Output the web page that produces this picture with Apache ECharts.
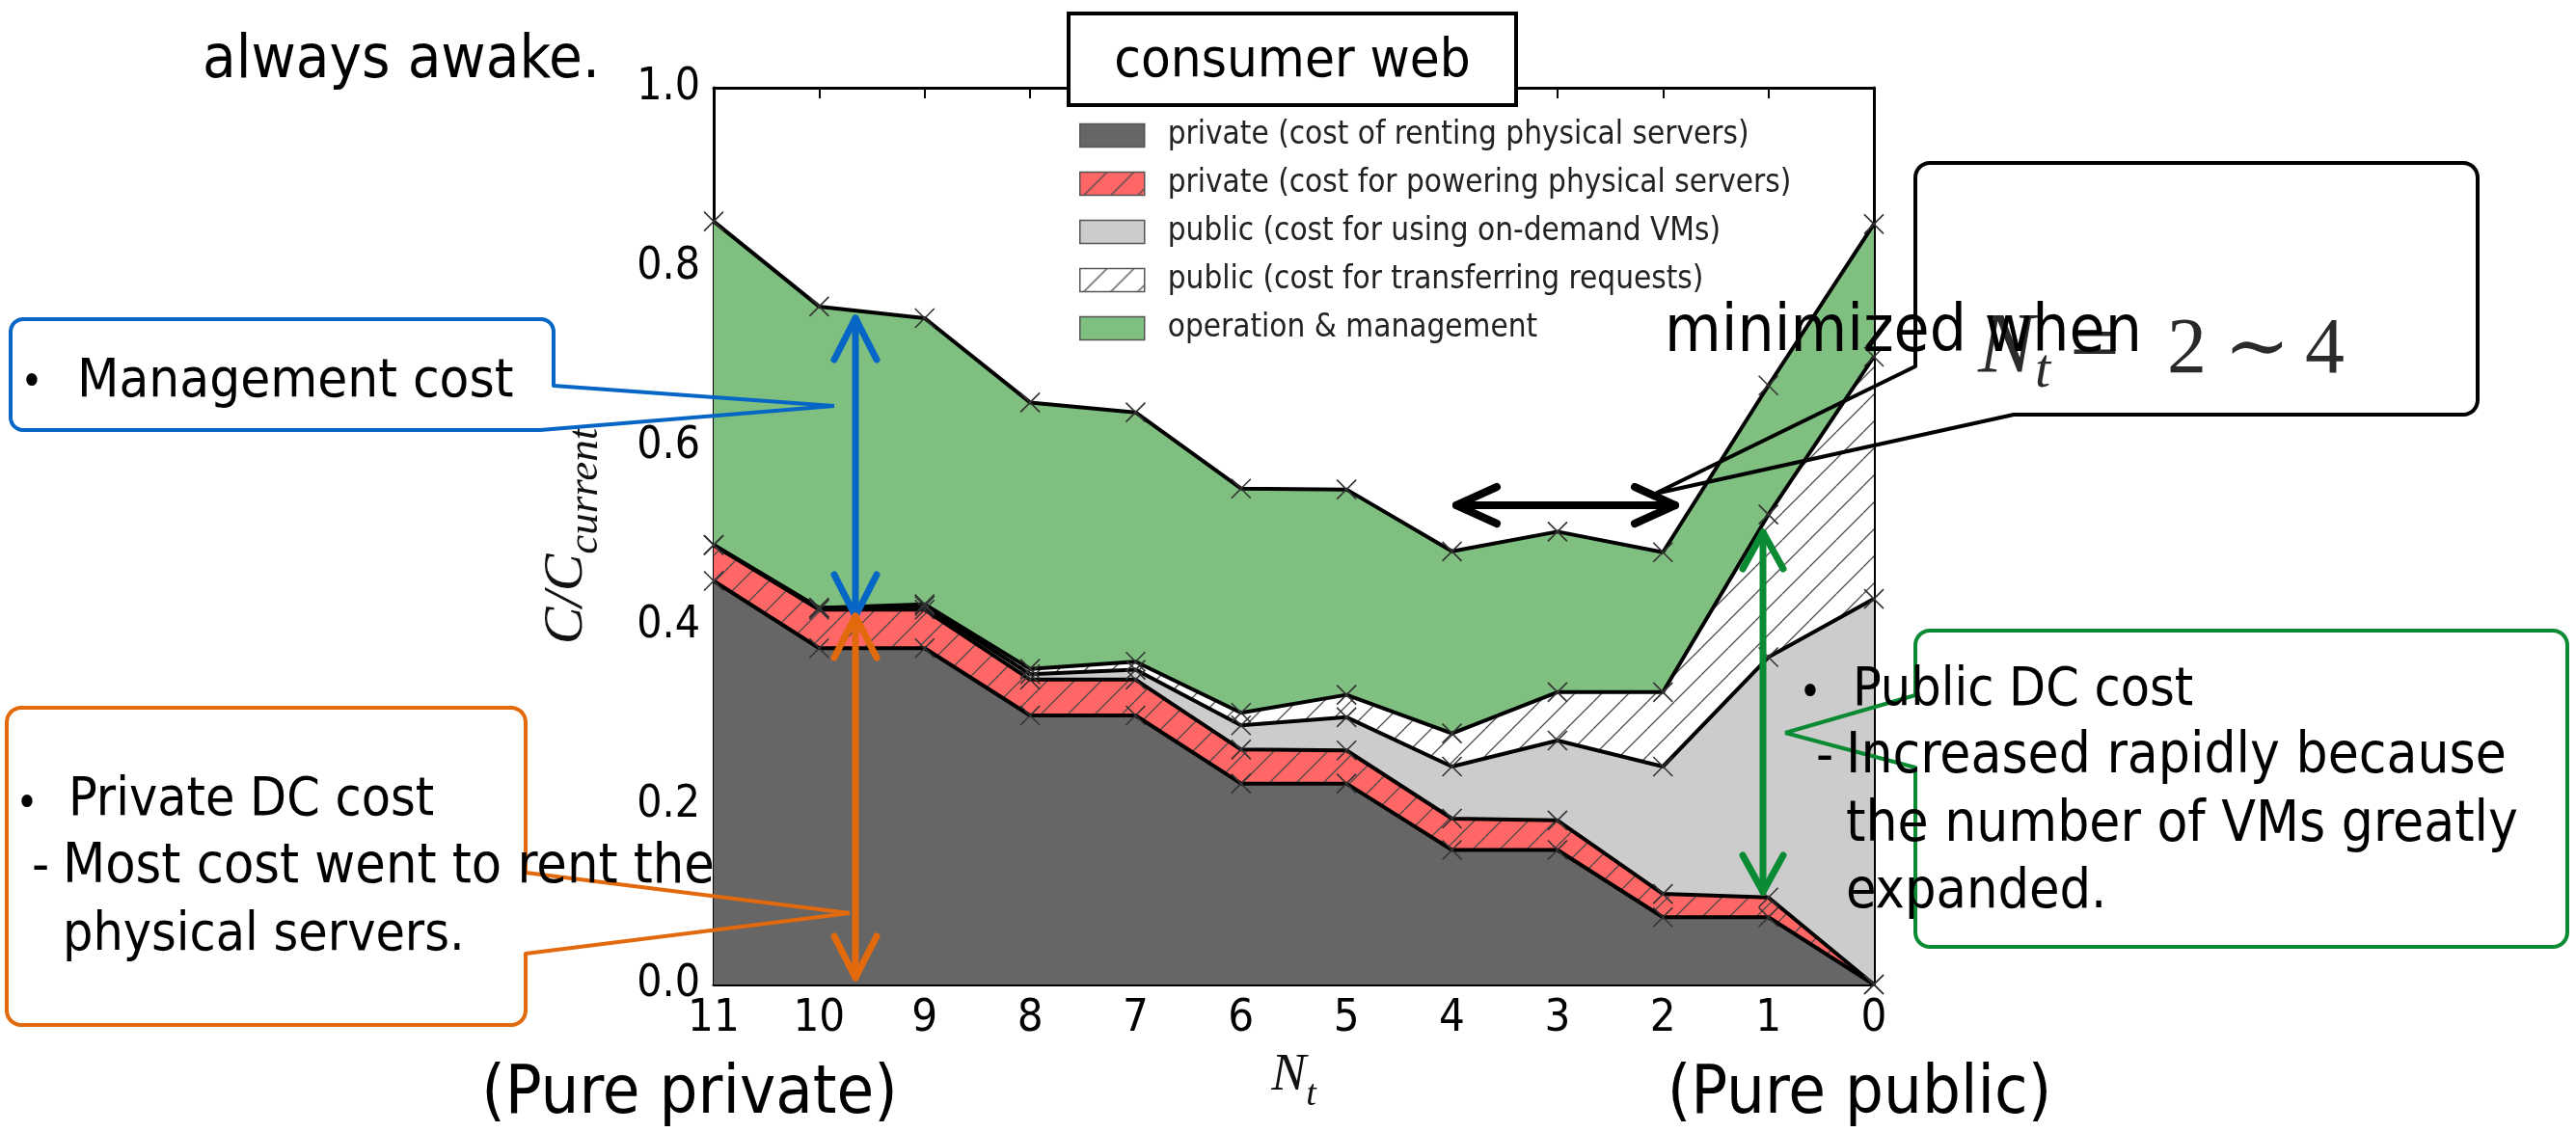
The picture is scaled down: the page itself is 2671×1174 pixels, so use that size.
<!DOCTYPE html>
<html>
<head>
<meta charset="utf-8">
<script src="https://cdn.jsdelivr.net/npm/echarts@6/dist/echarts.min.js"></script>
<style>
html, body { margin: 0; padding: 0; background: #ffffff; }
#chart { width: 2671px; height: 1174px; }
</style>
</head>
<body>
<div id="chart"></div>
<script>
// N_t: number of servers kept in the private data center (11 = pure private, 0 = pure public)
const nt = ['11', '10', '9', '8', '7', '6', '5', '4', '3', '2', '1', '0'];

// Cost components, normalised by the current cost (stacked bottom to top)
const renting    = [0.450, 0.375, 0.375, 0.300, 0.300, 0.224, 0.224, 0.150, 0.150, 0.075, 0.075, 0.000];
const powering   = [0.040, 0.043, 0.043, 0.040, 0.040, 0.038, 0.037, 0.035, 0.033, 0.026, 0.022, 0.000];
const vms        = [0.000, 0.002, 0.004, 0.006, 0.011, 0.027, 0.037, 0.058, 0.089, 0.142, 0.268, 0.430];
const transfer   = [0.000, 0.000, 0.002, 0.006, 0.009, 0.014, 0.025, 0.037, 0.054, 0.083, 0.159, 0.270];
const management = [0.361, 0.336, 0.319, 0.297, 0.278, 0.250, 0.229, 0.203, 0.179, 0.156, 0.144, 0.148];

const layerNames = [
  'private (cost of renting physical servers)',
  'private (cost for powering physical servers)',
  'public (cost for using on-demand VMs)',
  'public (cost for transferring requests)',
  'operation & management'
];
const layerValues = [renting, powering, vms, transfer, management];

const yRange = { min: 0, max: 1, step: 0.2 };

const PLOT_FONT = "'DejaVu Sans Condensed', 'DejaVu Sans', sans-serif";
const SERIF = "'Liberation Serif', 'DejaVu Serif', serif";
const SLIDE_FONT = "'DejaVu Sans Condensed', 'DejaVu Sans', sans-serif";

// diagonal "/" hatch drawn over a background colour, used as a repeating fill
function hatchFill(bg) {
  const s = 28;
  const c = document.createElement('canvas');
  c.width = s; c.height = s;
  const g = c.getContext('2d');
  g.fillStyle = bg;
  g.fillRect(0, 0, s, s);
  g.strokeStyle = '#4a4a4a';
  g.lineWidth = 1.3;
  g.beginPath();
  for (const k of [-s, 0, s]) { g.moveTo(k, s); g.lineTo(k + s, 0); }
  g.stroke();
  return { image: c, repeat: 'repeat' };
}

const layerFills = ['#666666', hatchFill('#ff6666'), '#cccccc', hatchFill('#ffffff'), '#7fbf7f'];

const crossMarker = 'path://M0,0L10,10M10,0L0,10';

// filled bands
const areaSeries = layerNames.map((name, i) => ({
  type: 'line',
  name: name,
  data: layerValues[i],
  stack: 'fill',
  showSymbol: false,
  symbol: 'none',
  itemStyle: { color: layerFills[i], borderColor: '#555', borderWidth: 1.5 },
  lineStyle: { width: 0, opacity: 0 },
  areaStyle: { color: layerFills[i], opacity: 1 },
  emphasis: { disabled: true },
  silent: true,
  z: 2
}));

// black outlines with cross markers on top of every band
const outlineSeries = layerNames.map((name, i) => ({
  type: 'line',
  name: 'edge ' + i,
  data: layerValues[i],
  stack: 'outline',
  symbol: crossMarker,
  symbolSize: 20,
  showSymbol: true,
  itemStyle: { color: 'rgba(0,0,0,0)', borderColor: '#333', borderWidth: 1.6 },
  lineStyle: { color: '#000', width: 4 },
  emphasis: { disabled: true },
  silent: true,
  z: 3
}));

// ---------- slide overlay helpers ----------
function txt(x, y, text, size, extra) {
  return {
    type: 'text', x: x, y: y, z: 120, silent: true,
    style: Object.assign({
      text: text, font: size + 'px ' + SLIDE_FONT, fill: '#000',
      textAlign: 'left', textVerticalAlign: 'middle'
    }, extra || {})
  };
}
function arc(cx, cy, r, a0, a1) {
  const pts = [];
  const n = 8;
  for (let k = 0; k <= n; k++) {
    const a = a0 + (a1 - a0) * k / n;
    pts.push([cx + r * Math.cos(a), cy + r * Math.sin(a)]);
  }
  return pts;
}
function outline(points, color) {
  return {
    type: 'polyline', z: 110, silent: true,
    shape: { points: points },
    style: { stroke: color, fill: 'none', lineWidth: 4, lineJoin: 'round' }
  };
}
function line(pts, color, w) {
  return {
    type: 'polyline', z: 115, silent: true,
    shape: { points: pts },
    style: { stroke: color, fill: 'none', lineWidth: w, lineCap: 'round', lineJoin: 'round' }
  };
}
function doubleArrow(x1, y1, x2, y2, color, w, len, half) {
  const dx = x2 - x1, dy = y2 - y1;
  const L = Math.hypot(dx, dy);
  const ux = dx / L, uy = dy / L, px = -uy, py = ux;
  const head = (tx, ty, sx, sy) => [
    [tx + sx * len + px * half, ty + sy * len + py * half],
    [tx, ty],
    [tx + sx * len - px * half, ty + sy * len - py * half]
  ];
  return [
    line([[x1, y1], [x2, y2]], color, w),
    line(head(x1, y1, ux, uy), color, w),
    line(head(x2, y2, -ux, -uy), color, w)
  ];
}

const PI = Math.PI;
const BLUE = '#0566c6', ORANGE = '#e2690c', GREEN = '#0b8a34';

const mgmtBox = [[865, 421], [574, 400], [574, 344]]
  .concat(arc(561, 344, 13, 0, -PI / 2))
  .concat(arc(24, 344, 13, -PI / 2, -PI))
  .concat(arc(24, 433, 13, PI, PI / 2))
  .concat([[560, 446], [865, 421]]);

const privBox = [[881, 947], [545, 905]]
  .concat(arc(530, 749, 15, 0, -PI / 2))
  .concat(arc(22, 749, 15, -PI / 2, -PI))
  .concat(arc(22, 1048, 15, PI, PI / 2))
  .concat(arc(530, 1048, 15, PI / 2, 0))
  .concat([[545, 989], [881, 947]]);

const pubBox = [[1851, 760], [1986, 721]]
  .concat(arc(2001, 669, 15, PI, 1.5 * PI))
  .concat(arc(2647, 669, 15, -PI / 2, 0))
  .concat(arc(2647, 967, 15, 0, PI / 2))
  .concat(arc(2001, 967, 15, PI / 2, PI))
  .concat([[1986, 796], [1851, 760]]);

const minBox = [[1716, 512], [1986, 380]]
  .concat(arc(2001, 184, 15, PI, 1.5 * PI))
  .concat(arc(2554, 184, 15, -PI / 2, 0))
  .concat(arc(2554, 415, 15, 0, PI / 2))
  .concat([[2088, 430], [1716, 512]]);

const MATH = { fill: '#2a2a2a' };

const overlay = [
  txt(210, 64, 'always awake.', 63),
  {
    type: 'rect', z: 100, silent: true,
    shape: { x: 1108, y: 14, width: 464, height: 95 },
    style: { fill: '#fff', stroke: '#000', lineWidth: 4 }
  },
  txt(1340, 64, 'consumer web', 56, { textAlign: 'center' }),

  outline(mgmtBox, BLUE),
  txt(33, 399, '\u2022', 44, { textAlign: 'center' }),
  txt(80, 396, 'Management cost', 56),

  outline(privBox, ORANGE),
  txt(28, 836, '\u2022', 44, { textAlign: 'center' }),
  txt(71, 831, 'Private DC cost', 55),
  txt(33, 900, '-', 56),
  txt(65, 900, 'Most cost went to rent the', 57),
  txt(65, 971, 'physical servers.', 55),

  outline(pubBox, GREEN),
  txt(1877, 721, '\u2022', 44, { textAlign: 'center' }),
  txt(1921, 717, 'Public DC cost', 55),
  txt(1883, 786, '-', 56),
  txt(1914, 786, 'Increased rapidly because', 58),
  txt(1914, 857, 'the number of VMs greatly', 58),
  txt(1914, 926, 'expanded.', 57),

  outline(minBox, '#000'),
  txt(2051, 362, 'N', 88, Object.assign({ font: 'italic 88px ' + SERIF }, MATH)),
  txt(2110, 386, 't', 58, Object.assign({ font: 'italic 58px ' + SERIF }, MATH)),
  txt(2146, 362, '=', 92, Object.assign({ font: '92px ' + SERIF }, MATH)),
  txt(2247, 364, '2', 82, Object.assign({ font: '82px ' + SERIF }, MATH)),
  txt(2306, 364, '\u223C', 82, Object.assign({ font: '82px ' + SERIF }, MATH)),
  txt(2390, 364, '4', 82, Object.assign({ font: '82px ' + SERIF }, MATH)),
  txt(1726, 347, 'minimized when', 67),

  txt(715, 1136, '(Pure private)', 70, { textAlign: 'center' }),
  txt(1928, 1136, '(Pure public)', 70, { textAlign: 'center' })
]
  .concat(doubleArrow(1510, 524, 1737, 524, '#000', 8, 42, 19))
  .concat(doubleArrow(887, 330, 887, 639, BLUE, 7, 43, 22))
  .concat(doubleArrow(887, 639, 887, 1014, ORANGE, 7, 43, 22))
  .concat(doubleArrow(1828, 552, 1828, 925, GREEN, 7, 38, 21));

const chart = echarts.init(document.getElementById('chart'), null, { renderer: 'canvas' });

const tickStyle = { show: true, inside: true, length: 11, lineStyle: { color: '#000', width: 2 } };
const frameLine = { show: true, onZero: false, lineStyle: { color: '#000', width: 3 } };

chart.setOption({
  animation: false,
  backgroundColor: '#ffffff',
  grid: { left: 740, top: 91, right: 728, bottom: 153, containLabel: false },
  legend: {
    show: true,
    orient: 'vertical',
    left: 1119,
    top: 124,
    padding: 0,
    icon: 'rect',
    itemWidth: 67,
    itemHeight: 24,
    itemGap: 17,
    selectedMode: false,
    data: layerNames.map((n, i) => ({
      name: n,
      itemStyle: { color: layerFills[i], borderColor: '#555', borderWidth: 1.5 }
    })),
    textStyle: {
      fontFamily: PLOT_FONT, fontSize: 33, color: '#222',
      lineHeight: 24, padding: [0, 0, 0, 19]
    }
  },
  xAxis: [
    {
      type: 'category', data: nt, boundaryGap: false, position: 'bottom',
      axisLine: frameLine,
      axisTick: Object.assign({ alignWithLabel: true }, tickStyle),
      axisLabel: { fontFamily: PLOT_FONT, fontSize: 47, color: '#000', margin: 12 },
      splitLine: { show: false },
      name: '{n|N}{t|t}',
      nameLocation: 'middle',
      nameGap: 68,
      nameTextStyle: {
        rich: {
          n: { fontFamily: SERIF, fontStyle: 'italic', fontSize: 54, color: '#111', verticalAlign: 'bottom', padding: [0, 0, 12, 0] },
          t: { fontFamily: SERIF, fontStyle: 'italic', fontSize: 38, color: '#111', verticalAlign: 'bottom' }
        }
      }
    },
    {
      type: 'category', data: nt, boundaryGap: false, position: 'top',
      axisLine: frameLine,
      axisTick: tickStyle,
      axisLabel: { show: false },
      splitLine: { show: false }
    }
  ],
  yAxis: [
    {
      type: 'value', min: yRange.min, max: yRange.max, interval: yRange.step, position: 'left',
      axisLine: frameLine,
      axisTick: tickStyle,
      axisLabel: { fontFamily: PLOT_FONT, fontSize: 46, color: '#000', margin: 14, formatter: v => v.toFixed(1) },
      splitLine: { show: false },
      name: '{c|C/C}{s|current}',
      nameLocation: 'middle',
      nameRotate: 90,
      nameGap: 110,
      nameTextStyle: {
        rich: {
          c: { fontFamily: SERIF, fontStyle: 'italic', fontSize: 58, color: '#111', verticalAlign: 'bottom', padding: [0, 0, 13, 0] },
          s: { fontFamily: SERIF, fontStyle: 'italic', fontSize: 45, color: '#111', verticalAlign: 'bottom' }
        }
      }
    },
    {
      type: 'value', min: yRange.min, max: yRange.max, interval: yRange.step, position: 'right',
      axisLine: frameLine,
      axisTick: tickStyle,
      axisLabel: { show: false },
      splitLine: { show: false }
    }
  ],
  series: areaSeries.concat(outlineSeries),
  graphic: overlay
});
</script>
</body>
</html>
